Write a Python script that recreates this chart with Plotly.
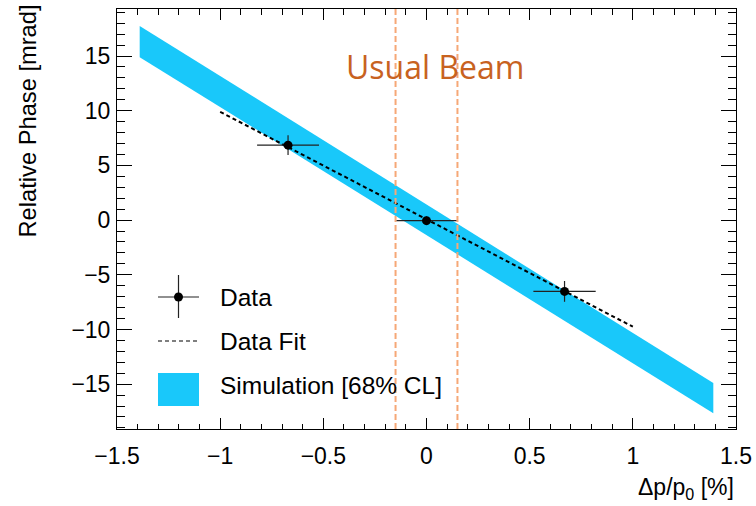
import plotly.graph_objects as go

# ---- data ----
data_x = [-0.671, 0.0, 0.669]
data_y = [6.85, -0.05, -6.52]
data_xerr = [0.15, 0.147, 0.151]
data_yerr = [0.9, 0.4, 0.95]

fit_x = [-1.0, 1.0]
fit_y = [9.9, -9.75]

band_x = [-1.39, 1.39]
band_upper = [17.75, -14.9]
band_lower = [14.9, -17.65]

beam_edges = [-0.15, 0.15]

x_range = [-1.5, 1.5]
y_range = [-19.1, 19.3]

BAND_COLOR = "#19C8FA"
ORANGE_LINE = "#F6A877"
ORANGE_TEXT = "#C8621F"
FONT = "Liberation Sans, Arial, Helvetica, sans-serif"

WIN_W, WIN_H = 756, 506
PLOT_L, PLOT_R, PLOT_T, PLOT_B = 117, 736, 9, 429   # plot frame in pixels

fig = go.Figure()

# simulation band
fig.add_trace(go.Scatter(
    x=band_x + band_x[::-1],
    y=band_upper + band_lower[::-1],
    fill="toself", fillcolor=BAND_COLOR,
    line=dict(width=0, color=BAND_COLOR),
    mode="lines", hoverinfo="skip", showlegend=False,
))

# fit line
fig.add_trace(go.Scatter(
    x=fit_x, y=fit_y, mode="lines",
    line=dict(color="black", width=2, dash="4px,3px"),
    showlegend=False,
))

# data
fig.add_trace(go.Scatter(
    x=data_x, y=data_y, mode="markers",
    marker=dict(color="black", size=9),
    error_x=dict(type="data", array=data_xerr, width=0, thickness=1.2, color="#222222"),
    error_y=dict(type="data", array=data_yerr, width=0, thickness=1.2, color="#222222"),
    showlegend=False,
))

# usual beam edges
for xb in beam_edges:
    fig.add_shape(type="line", xref="x", yref="paper", x0=xb, x1=xb, y0=0, y1=1,
                  line=dict(color=ORANGE_LINE, width=2, dash="6px,3px"))


def px(xp):
    return (xp - PLOT_L) / (PLOT_R - PLOT_L)


def py(yp):
    return (PLOT_B - yp) / (PLOT_B - PLOT_T)


fig.add_annotation(x=px(435), y=py(67), xref="paper", yref="paper",
                   text="Usual Beam", showarrow=False, xanchor="center", yanchor="middle",
                   font=dict(family="Open Sans", size=32, color=ORANGE_TEXT))

# ---- custom legend (paper coordinates) ----
fig.add_shape(type="line", xref="paper", yref="paper", x0=px(158), x1=px(199), y0=py(297), y1=py(297),
              line=dict(color="#222222", width=1.2))
fig.add_shape(type="line", xref="paper", yref="paper", x0=px(178.5), x1=px(178.5), y0=py(275), y1=py(318),
              line=dict(color="#222222", width=1.2))
fig.add_shape(type="circle", xref="paper", yref="paper", x0=px(174), x1=px(183), y0=py(292.5), y1=py(301.5),
              fillcolor="black", line=dict(color="black", width=0))
fig.add_shape(type="line", xref="paper", yref="paper", x0=px(158), x1=px(199), y0=py(341), y1=py(341),
              line=dict(color="black", width=1.2, dash="4px,3px"))
fig.add_shape(type="rect", xref="paper", yref="paper", x0=px(158), x1=px(199), y0=py(373), y1=py(406),
              fillcolor=BAND_COLOR, line=dict(width=0))

for label, yp in [("Data", 297), ("Data Fit", 341), ("Simulation [68% CL]", 385)]:
    fig.add_annotation(x=px(218), y=py(yp), xref="paper", yref="paper", text=label,
                       showarrow=False, xanchor="left", yanchor="middle",
                       font=dict(family=FONT, size=24.5, color="black"))

# axis titles
fig.add_annotation(x=px(27), y=py(3), xref="paper", yref="paper", text="Relative Phase [mrad]",
                   textangle=-90, showarrow=False, xanchor="center", yanchor="top",
                   font=dict(family=FONT, size=23.7, color="black"))
fig.add_annotation(x=1.0, y=py(488), xref="paper", yref="paper", text="Δp/p<sub>0</sub> [%]",
                   showarrow=False, xanchor="right", yanchor="middle",
                   font=dict(family=FONT, size=23, color="black"))

axis_common = dict(
    showgrid=False, zeroline=False, showline=True, linecolor="black", linewidth=1,
    ticks="inside", mirror="allticks", tickcolor="black", tickwidth=1,
    tickfont=dict(family=FONT, size=23, color="black"), automargin=False,
)

fig.update_xaxes(range=x_range, dtick=0.5, tick0=0, ticklen=11,
                 minor=dict(dtick=0.1, ticklen=5.5, ticks="inside", tickcolor="black"),
                 ticklabelstandoff=6, **axis_common)
fig.update_yaxes(range=y_range, dtick=5, tick0=0, ticklen=15,
                 minor=dict(dtick=1, ticklen=8, ticks="inside", tickcolor="black"),
                 ticklabelstandoff=1, **axis_common)

fig.update_layout(
    width=WIN_W, height=WIN_H,
    margin=dict(l=PLOT_L, r=WIN_W - PLOT_R, t=PLOT_T, b=WIN_H - PLOT_B, autoexpand=False),
    plot_bgcolor="white", paper_bgcolor="white",
    showlegend=False, hovermode=False,
    font=dict(family=FONT, size=23, color="black"),
)

fig.write_html("out.html",
               config={"displayModeBar": False, "staticPlot": True},
               post_script="document.body.style.margin='0px';document.body.style.overflow='hidden';")
